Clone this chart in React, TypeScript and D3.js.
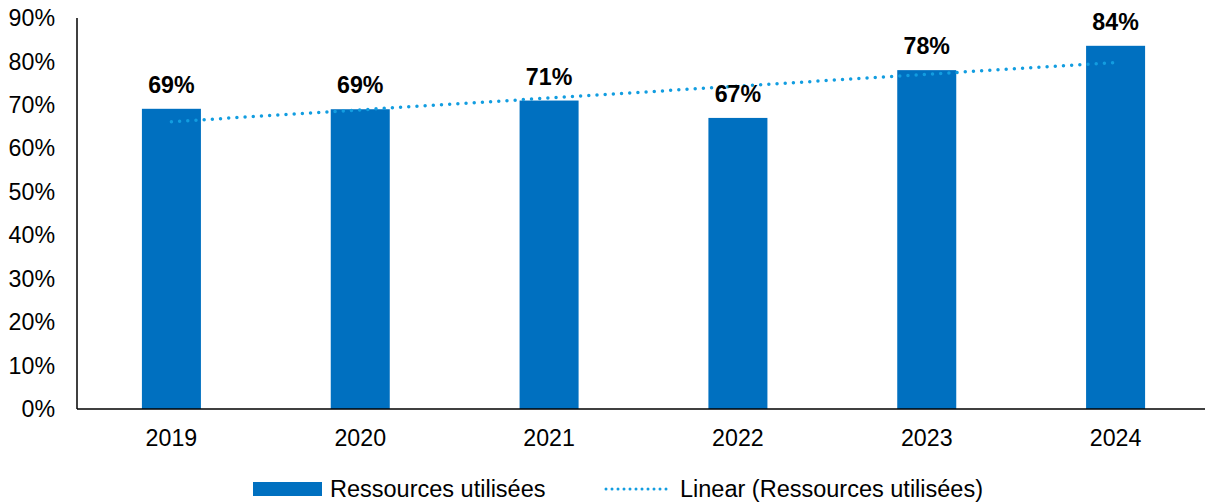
import React from "react";
import * as d3 from "d3";

const categories: string[] = ["2019", "2020", "2021", "2022", "2023", "2024"];
const values: number[] = [69.1, 69.0, 71.0, 67.0, 78.0, 83.6];
const labels: string[] = ["69%", "69%", "71%", "67%", "78%", "84%"];
const yTicks: number[] = [0, 10, 20, 30, 40, 50, 60, 70, 80, 90];
const seriesName = "Ressources utilisées";
const trendName = "Linear (Ressources utilisées)";

const W = 1205;
const H = 503;
const FONT = "'Liberation Sans', Arial, sans-serif";
const BAR = "#0070c0";
const TREND = "#129de0";
const FS = 23.2;

export default function App() {
  const x = d3
    .scaleBand<string>()
    .domain(categories)
    .range([77, 1210])
    .paddingInner(0.6875)
    .paddingOuter(0.34375);
  const y = d3.scaleLinear().domain([0, 90]).range([409, 18]);

  // linear regression trendline
  const n = values.length;
  const xs = values.map((_, i) => i);
  const mx = d3.mean(xs) as number;
  const my = d3.mean(values) as number;
  const sxy = d3.sum(xs.map((xi, i) => (xi - mx) * (values[i] - my)));
  const sxx = d3.sum(xs.map((xi) => (xi - mx) ** 2));
  const slope = sxy / sxx;
  const icpt = my - slope * mx;
  const cx = (i: number) => (x(categories[i]) as number) + x.bandwidth() / 2;
  const trendPts: [number, number][] = [0, n - 1].map((i) => [cx(i), y(icpt + slope * i)]);
  const line = d3.line();

  return (
    <svg width={W} height={H} style={{ position: "absolute", left: 0, top: 0 }} fontFamily={FONT}>
      <rect width={W} height={H} fill="#fff" />
      {yTicks.map((t) => (
        <text key={t} x={55} y={y(t)} dy="0.35em" textAnchor="end" fontSize={FS} fill="#000">
          {t}%
        </text>
      ))}
      {categories.map((c, i) => (
        <rect
          key={c}
          x={x(c)}
          y={y(values[i])}
          width={x.bandwidth()}
          height={y(0) - y(values[i])}
          fill={BAR}
        />
      ))}
      <path
        d={line(trendPts) as string}
        fill="none"
        stroke={TREND}
        strokeWidth={3.5}
        strokeLinecap="round"
        strokeDasharray="0 8.2"
      />
      {categories.map((c, i) => (
        <text
          key={c}
          x={cx(i)}
          y={y(values[i]) - 16}
          textAnchor="middle"
          fontSize={FS}
          fontWeight="bold"
          fill="#000"
        >
          {labels[i]}
        </text>
      ))}
      <line x1={77} x2={77} y1={18} y2={409} stroke="#000" strokeWidth={1.5} />
      <line x1={77} x2={1205} y1={409} y2={409} stroke="#000" strokeWidth={1.5} />
      {categories.map((c, i) => (
        <text key={c} x={cx(i)} y={446} textAnchor="middle" fontSize={FS} fill="#000">
          {c}
        </text>
      ))}
      <rect x={253} y={482} width={69} height={14} fill={BAR} />
      <text x={330} y={497} fontSize={23.5} fill="#000">
        {seriesName}
      </text>
      <line
        x1={606}
        x2={672}
        y1={489}
        y2={489}
        stroke={TREND}
        strokeWidth={3}
        strokeLinecap="round"
        strokeDasharray="0 6"
      />
      <text x={680} y={497} fontSize={23.5} fill="#000">
        {trendName}
      </text>
    </svg>
  );
}
